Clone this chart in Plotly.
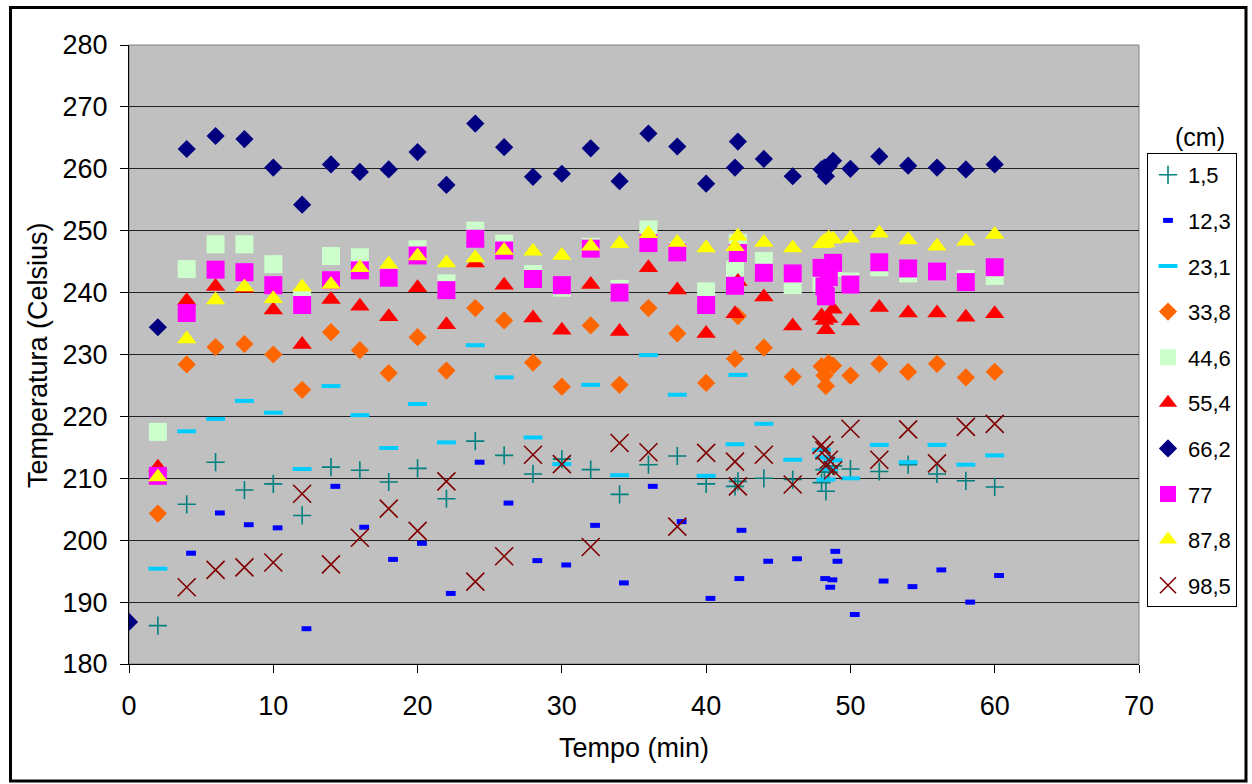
import plotly.graph_objects as go

# times (min) shared by most series; 42 and 48-49 have repeated readings
t_main = [2, 4, 6, 8, 10, 12, 14, 16, 18, 20, 22, 24, 26, 28, 30, 32, 34, 36, 38, 40,
          42, 42.2, 44, 46, 48, 48.2, 48.3, 48.5, 48.8, 50, 52, 54, 56, 58, 60]
t_662 = [0] + t_main
t_985 = t_main[1:]
t_123 = [4.3, 6.3, 8.3, 10.3, 12.3, 14.3, 16.3, 18.3, 20.3, 22.3, 24.3, 26.3, 28.3, 30.3,
         32.3, 34.3, 36.3, 38.3, 40.3, 42.3, 42.45, 44.3, 46.3, 48.25, 48.6, 48.75, 48.95,
         49.1, 50.3, 52.3, 54.3, 56.3, 58.3, 60.3]

temp_15 = [186.2, 205.8, 212.6, 208.1, 209.1, 204.0, 211.8, 211.3, 209.4, 211.6, 206.7, 216.0,
           213.7, 210.7, 213.1, 211.4, 207.4, 212.2, 213.6, 209.1, 208.7, 209.5, 210.0, 209.8,
           209.3, 211.4, 207.9, 211.0, 212.0, 211.5, 211.1, 212.2, 210.7, 209.6, 208.6]
temp_123 = [197.9, 204.4, 202.5, 202.0, 185.7, 208.7, 202.1, 196.9, 199.5, 191.4, 212.6,
            206.0, 196.7, 196.0, 202.4, 193.1, 208.7, 203.0, 190.6, 193.8, 201.6, 196.6,
            197.0, 193.8, 192.4, 193.6, 198.2, 196.6, 188.0, 193.4, 192.5, 195.2, 190.0, 194.3]
temp_231 = [195.4, 217.6, 219.6, 222.5, 220.6, 211.5, 224.9, 220.2, 214.9, 222.0, 215.8, 231.5,
            226.3, 216.6, 212.3, 225.1, 210.5, 229.9, 223.5, 210.4, 215.5, 226.7, 218.8, 213.0,
            214.6, 213.4, 209.8, 211.5, 212.9, 210.0, 215.4, 212.6, 215.4, 212.2, 213.7]
temp_338 = [204.3, 228.4, 231.2, 231.7, 230.0, 224.3, 233.6, 230.7, 227.0, 232.8, 227.4, 237.5,
            235.5, 228.7, 224.8, 234.7, 225.1, 237.5, 233.4, 225.4, 229.3, 236.2, 231.1, 226.4,
            228.1, 226.6, 224.9, 228.6, 228.2, 226.6, 228.5, 227.2, 228.5, 226.3, 227.2]
temp_446 = [217.5, 243.8, 247.8, 247.8, 244.6, 238.8, 245.9, 245.7, 242.7, 247.0, 241.5, 250.0,
            247.9, 243.0, 240.8, 247.4, 240.6, 250.2, 246.7, 240.2, 243.7, 248.0, 245.1, 241.2,
            241.5, 242.0, 240.5, 243.0, 244.0, 241.8, 244.1, 243.1, 243.3, 242.2, 242.7]
temp_554 = [211.8, 238.7, 241.0, 240.7, 237.2, 231.6, 238.9, 237.8, 236.1, 240.8, 234.8, 244.8,
            241.2, 235.9, 233.9, 241.3, 233.7, 244.0, 240.4, 233.4, 236.6, 241.8, 239.3, 234.6,
            236.2, 235.5, 234.0, 235.8, 237.3, 235.4, 237.6, 236.7, 236.7, 236.0, 236.6]
temp_662 = [186.8, 234.4, 263.2, 265.3, 264.8, 260.2, 254.2, 260.7, 259.5, 259.9, 262.7, 257.4,
            267.3, 263.5, 258.7, 259.2, 263.3, 258.0, 265.7, 263.6, 257.6, 260.2, 264.4, 261.6,
            258.8, 259.9, 260.2, 258.8, 260.4, 261.3, 260.0, 262.0, 260.5, 260.2, 259.9, 260.7]
temp_77 = [210.4, 236.7, 243.7, 243.3, 241.2, 238.0, 242.0, 243.6, 242.4, 246.0, 240.4, 248.7,
           246.8, 242.2, 241.2, 247.1, 240.0, 248.0, 246.5, 238.0, 241.1, 246.4, 243.2, 243.1,
           244.0, 241.0, 239.4, 242.5, 244.8, 241.3, 244.9, 243.9, 243.4, 241.7, 244.1]
temp_878 = [210.2, 232.5, 238.8, 240.9, 239.0, 240.9, 241.3, 244.0, 244.6, 245.9, 244.8, 245.6,
            246.8, 246.7, 246.0, 247.5, 247.9, 249.5, 248.1, 247.2, 247.4, 249.1, 248.1, 247.2,
            247.9, 248.3, 248.0, 248.8, 248.6, 248.8, 249.6, 248.5, 247.5, 248.3, 249.4]
temp_985 = [192.4, 195.2, 195.6, 196.4, 207.5, 196.1, 200.4, 205.1, 201.5, 209.5, 193.3,
            197.4, 213.8, 212.3, 198.9, 215.7, 214.2, 202.2, 214.1, 212.7, 208.7, 213.8, 209.0,
            215.4, 214.5, 212.0, 213.0, 211.3, 218.0, 213.0, 217.9, 212.4, 218.3, 218.8]

series = [
    ('1,5', t_main, temp_15, dict(symbol='cross-thin', size=13, color='#008080',
                                  line=dict(color='#008080', width=1.6))),
    ('12,3', t_123, temp_123, dict(symbol='line-ew', size=7, color='#0000FF',
                                   line=dict(color='#0000FF', width=5))),
    ('23,1', t_main, temp_231, dict(symbol='line-ew', size=13.5, color='#00CCFF',
                                    line=dict(color='#00CCFF', width=4))),
    ('33,8', t_main, temp_338, dict(symbol='diamond', size=14, color='#FF6600')),
    ('44,6', t_main, temp_446, dict(symbol='square', size=18, color='#CCFFCC')),
    ('55,4', t_main, temp_554, dict(symbol='triangle-up', size=17, color='#FF0000')),
    ('66,2', t_662, temp_662, dict(symbol='diamond', size=14, color='#000080')),
    ('77', t_main, temp_77, dict(symbol='square', size=18, color='#FF00FF')),
    ('87,8', t_main, temp_878, dict(symbol='triangle-up', size=17, color='#FFFF00')),
    ('98,5', t_985, temp_985, dict(symbol='x-thin', size=18, color='#800000',
                                   line=dict(color='#800000', width=1.6))),
]

W, H = 1252, 784
L, R, T, B = 129, 113, 45, 120


def px(x):
    return (x - L) / (W - L - R)


def py(y):
    return 1 - (y - T) / (H - T - B)


fig = go.Figure()
for name, t, temp, marker in series:
    fig.add_trace(go.Scatter(x=t, y=temp, name=name, mode='markers',
                             marker=marker, legendgroup=name))

fig.update_layout(
    width=W, height=H,
    margin=dict(l=L, r=R, t=T, b=B),
    paper_bgcolor='white',
    plot_bgcolor='#C0C0C0',
    font=dict(family='Liberation Sans, Arial', size=27, color='black'),
    showlegend=True,
    legend=dict(x=px(1147), y=py(153), xanchor='left', yanchor='top',
                bgcolor='white', bordercolor='black', borderwidth=1,
                font=dict(size=22), tracegroupgap=14),
    xaxis=dict(range=[0, 70], dtick=10, showgrid=False, zeroline=False,
               showline=True, linecolor='black', linewidth=1,
               ticks='outside', ticklen=8, tickcolor='black',
               ticklabelstandoff=10),
    yaxis=dict(range=[180, 280], dtick=10, showgrid=True, gridcolor='#222222',
               gridwidth=1, zeroline=False, showline=True, linecolor='black',
               linewidth=1, ticks='outside', ticklen=8, tickcolor='black',
               ticklabelstandoff=7),
    shapes=[
        dict(type='rect', xref='paper', yref='paper', x0=0, x1=1, y0=0, y1=1,
             line=dict(color='#808080', width=1), layer='below'),
        dict(type='rect', xref='paper', yref='paper', x0=px(10.5), x1=px(1246),
             y0=py(781), y1=py(7.5), line=dict(color='black', width=3)),
    ],
    annotations=[
        dict(text='(cm)', xref='paper', yref='paper', x=px(1200), y=py(137),
             xanchor='center', yanchor='middle', showarrow=False, font=dict(size=25)),
        dict(text='Tempo (min)', xref='paper', yref='paper', x=px(634), y=py(748),
             xanchor='center', yanchor='middle', showarrow=False, font=dict(size=27)),
        dict(text='Temperatura (Celsius)', xref='paper', yref='paper', x=px(38),
             y=py(355), xanchor='center', yanchor='middle', textangle=-90,
             showarrow=False, font=dict(size=27)),
    ],
)

fig.write_html("out.html", config={'displayModeBar': False},
               post_script="document.body.style.margin='0px';")
